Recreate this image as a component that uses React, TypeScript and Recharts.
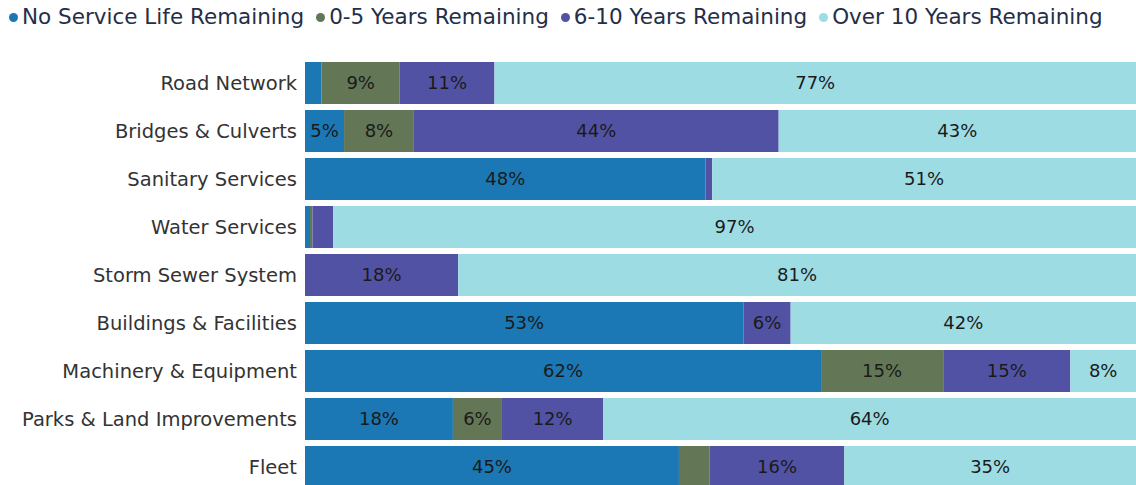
import { BarChart, Bar, XAxis, YAxis, Legend, LabelList } from "recharts";

const categories = [
  "Road Network",
  "Bridges & Culverts",
  "Sanitary Services",
  "Water Services",
  "Storm Sewer System",
  "Buildings & Facilities",
  "Machinery & Equipment",
  "Parks & Land Improvements",
  "Fleet",
];

const noLifeLeft = [2, 4.7, 48.2, 0.6, 0, 52.8, 62.1, 17.8, 45];
const zeroToFive = [9.4, 8.4, 0, 0.3, 0, 0, 14.7, 5.9, 3.7];
const sixToTen = [11.4, 43.9, 0.8, 2.5, 18.4, 5.7, 15.3, 12.2, 16.2];
const overTen = [77.2, 43, 51, 96.6, 81.4, 41.6, 7.9, 64.1, 35.1];

const series = [
  { key: "noLife", name: "No Service Life Remaining", color: "#1b78b4" },
  { key: "zeroFive", name: "0-5 Years Remaining", color: "#637656" },
  { key: "sixTen", name: "6-10 Years Remaining", color: "#5252a4" },
  { key: "overTen", name: "Over 10 Years Remaining", color: "#9edce4" },
];

const data = categories.map((name, i) => ({
  name,
  noLife: noLifeLeft[i],
  zeroFive: zeroToFive[i],
  sixTen: sixToTen[i],
  overTen: overTen[i],
}));

const FONT = "'DejaVu Sans', sans-serif";

function TopLegend() {
  return (
    <div style={{ display: "flex", height: 36, alignItems: "flex-start", fontFamily: FONT, fontSize: 21.5, color: "#252e48", lineHeight: "34px" }}>
      {series.map((s) => (
        <div key={s.key} style={{ display: "flex", alignItems: "center", marginRight: 11 }}>
          <span style={{ width: 9, height: 9, borderRadius: "50%", background: s.color, marginLeft: 1, marginRight: 4 }} />
          <span>{s.name}</span>
        </div>
      ))}
    </div>
  );
}

// hide labels on thin segments
const pct = (v: any) => (typeof v === "number" && v >= 4.5 ? `${Math.round(v)}%` : "");

export default function App() {
  return (
    <div style={{ position: "absolute", left: 0, top: 0, width: 1136, height: 485, overflow: "hidden", background: "#fff" }}>
      <BarChart
        width={1136}
        height={491}
        data={data}
        layout="vertical"
        stackOffset="expand"
        barCategoryGap={3}
        margin={{ top: 23, right: 0, bottom: 0, left: 0 }}
      >
        <Legend verticalAlign="top" align="left" content={() => <TopLegend />} wrapperStyle={{ left: 8, top: 0 }} />
        <XAxis type="number" domain={[0, 1]} hide />
        <YAxis
          type="category"
          dataKey="name"
          width={305}
          axisLine={false}
          tickLine={false}
          tickMargin={2}
          tick={{ fill: "#333333", fontSize: 19.5, fontFamily: FONT }}
        />
        {series.map((s) => (
          <Bar key={s.key} dataKey={s.key} name={s.name} stackId="a" fill={s.color} isAnimationActive={false}>
            <LabelList dataKey={s.key} position="center" formatter={pct} style={{ fill: "#1a1a1a", fontSize: 18, fontFamily: FONT }} />
          </Bar>
        ))}
      </BarChart>
    </div>
  );
}
